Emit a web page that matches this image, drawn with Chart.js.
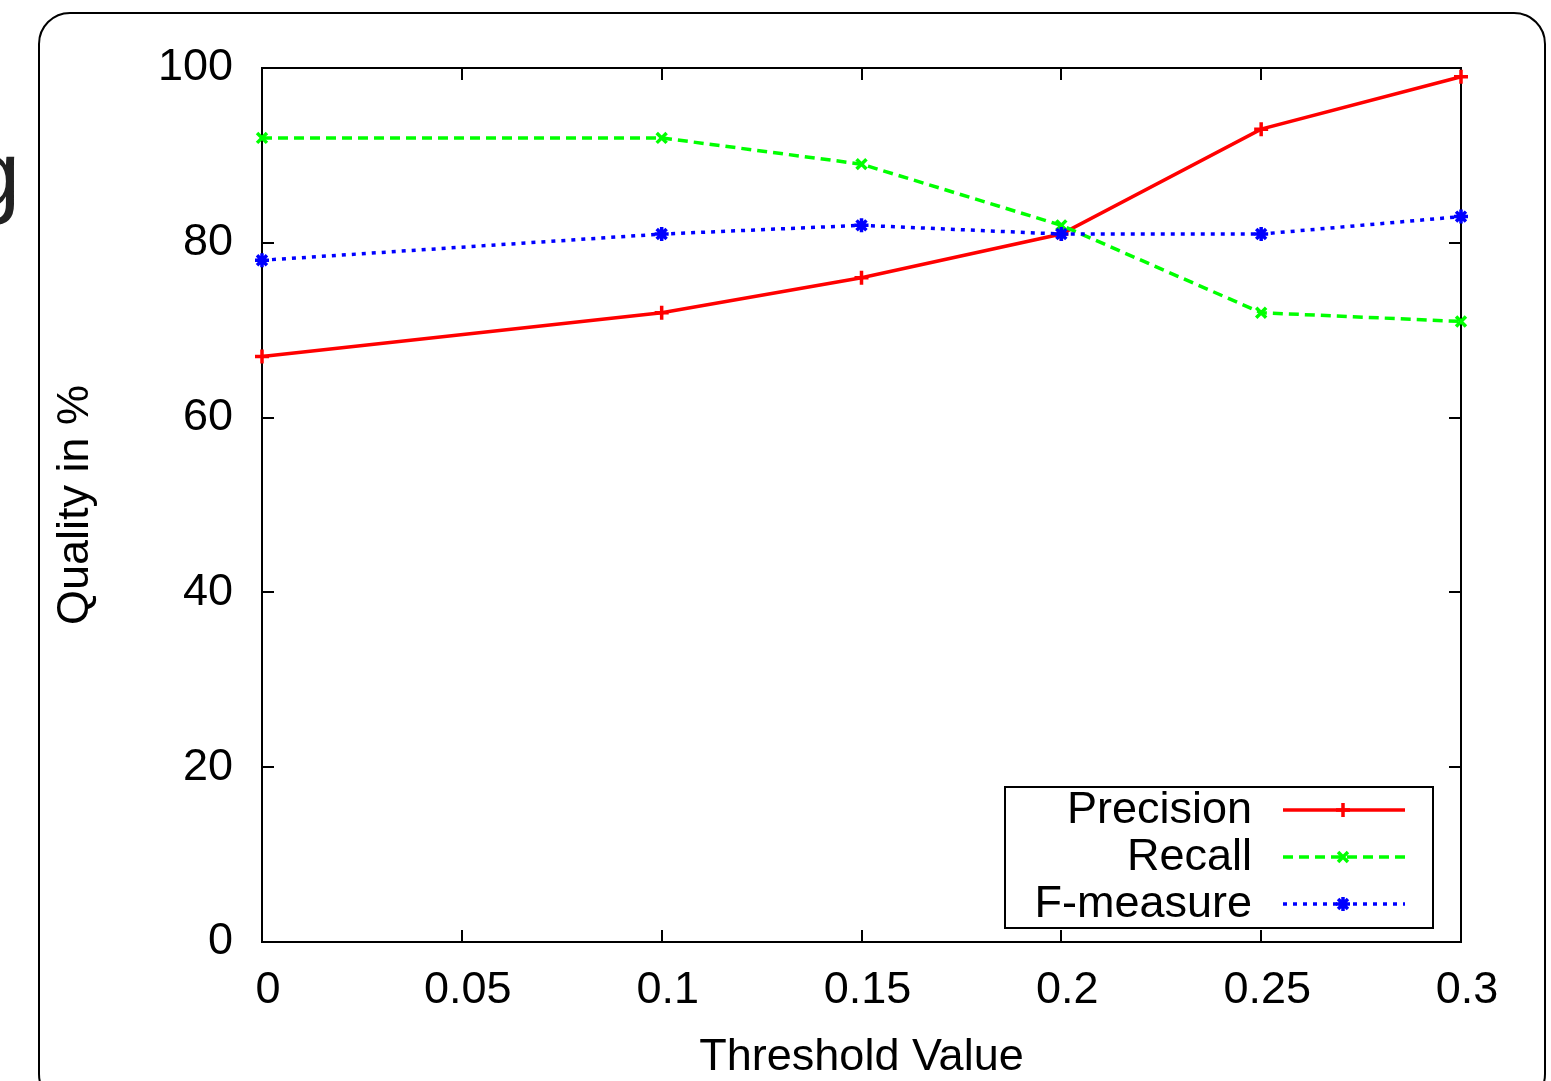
<!DOCTYPE html>
<html>
<head>
<meta charset="utf-8">
<script src="https://cdn.jsdelivr.net/npm/chart.js@4.4.1/dist/chart.umd.min.js"></script>
<style>
  body { margin: 0; background: #fff; overflow: hidden; }
  #wrap { position: relative; width: 1551px; height: 1081px; }
  #frame { position: absolute; left: 38px; top: 12px; width: 1504px; height: 1090px;
           border: 2px solid #000; border-radius: 32px; }
  #stray { position: absolute; left: -31px; top: 122px; font: 92px "Liberation Sans", Arial, sans-serif; color: #222; }
  canvas { position: absolute; left: 0; top: 0; }
</style>
</head>
<body>
<div id="wrap">
  <div id="stray">g</div>
  <div id="frame"></div>
  <canvas id="qualityChart" width="1551" height="1081"></canvas>
</div>
<script>
// data
const thresholds = [0, 0.1, 0.15, 0.2, 0.25, 0.3];
const precision = [67, 72, 76, 81, 93, 99];
const recall = [92, 92, 89, 82, 72, 71];
const fMeasure = [78, 81, 82, 81, 81, 83];
const seriesNames = ['Precision', 'Recall', 'F-measure'];

const FONT = '"Liberation Sans", Arial, sans-serif';

function toPoints(ys) {
  return thresholds.map((x, i) => ({x: x, y: ys[i]}));
}

// gnuplot style box: border, inward ticks on all four sides, key in the corner
const gnuplotBox = {
  id: 'gnuplotBox',
  beforeDatasetsDraw(chart) {
    const {ctx, chartArea: a, scales} = chart;
    ctx.save();
    ctx.strokeStyle = '#000';
    ctx.lineWidth = 2;
    ctx.strokeRect(a.left, a.top, a.right - a.left, a.bottom - a.top);
    const tl = 12;
    ctx.beginPath();
    scales.x.ticks.forEach(t => {
      const px = Math.round(scales.x.getPixelForValue(t.value));
      ctx.moveTo(px, a.bottom); ctx.lineTo(px, a.bottom - tl);
      ctx.moveTo(px, a.top); ctx.lineTo(px, a.top + tl);
    });
    scales.y.ticks.forEach(t => {
      const py = Math.round(scales.y.getPixelForValue(t.value));
      ctx.moveTo(a.left, py); ctx.lineTo(a.left + tl, py);
      ctx.moveTo(a.right, py); ctx.lineTo(a.right - tl, py);
    });
    ctx.stroke();
    ctx.restore();
  },
  afterDatasetsDraw(chart) {
    const {ctx} = chart;
    const box = {left: 1005, top: 787, right: 1433, bottom: 928};
    ctx.save();
    ctx.fillStyle = '#fff';
    ctx.fillRect(box.left, box.top, box.right - box.left, box.bottom - box.top);
    ctx.strokeStyle = '#000';
    ctx.lineWidth = 2;
    ctx.strokeRect(box.left, box.top, box.right - box.left, box.bottom - box.top);
    ctx.font = '45px ' + FONT;
    ctx.textAlign = 'right';
    ctx.textBaseline = 'middle';
    chart.data.datasets.forEach((ds, i) => {
      const y = 810 + i * 47;
      ctx.fillStyle = '#000';
      ctx.fillText(ds.label, 1252, y + 1);
      ctx.strokeStyle = ds.borderColor;
      ctx.lineWidth = ds.borderWidth;
      ctx.setLineDash(ds.borderDash || []);
      ctx.beginPath();
      ctx.moveTo(1283, y); ctx.lineTo(1405, y);
      ctx.stroke();
      ctx.setLineDash([]);
      Chart.helpers.drawPoint(ctx, {
        pointStyle: ds.pointStyle, radius: ds.pointRadius, rotation: 0,
        borderWidth: ds.pointBorderWidth
      }, 1343, y);
    });
    ctx.restore();
  }
};

const ctx = document.getElementById('qualityChart').getContext('2d');
new Chart(ctx, {
  type: 'line',
  data: {
    datasets: [{
      label: seriesNames[0],
      data: toPoints(precision),
      borderColor: '#ff0000',
      backgroundColor: '#ff0000',
      borderWidth: 3.5,
      pointStyle: 'cross',
      pointRadius: 7,
      pointBorderWidth: 3.5,
      order: 2
    }, {
      label: seriesNames[1],
      data: toPoints(recall),
      borderColor: '#00ff00',
      backgroundColor: '#00ff00',
      borderWidth: 3.5,
      borderDash: [10, 6],
      pointStyle: 'crossRot',
      pointRadius: 7,
      pointBorderWidth: 3.5,
      order: 1
    }, {
      label: seriesNames[2],
      data: toPoints(fMeasure),
      borderColor: '#0000ff',
      backgroundColor: '#0000ff',
      borderWidth: 3.5,
      borderDash: [4, 6],
      pointStyle: 'star',
      pointRadius: 7,
      pointBorderWidth: 3.5,
      order: 0
    }]
  },
  options: {
    responsive: false,
    animation: false,
    clip: false,
    layout: {padding: {left: 0, top: 68, right: 90, bottom: 0}},
    plugins: {legend: {display: false}, tooltip: {enabled: false}},
    elements: {line: {tension: 0}},
    scales: {
      x: {
        type: 'linear',
        min: 0, max: 0.3,
        grid: {display: false, drawTicks: false},
        border: {display: false},
        ticks: {
          stepSize: 0.05,
          color: '#000',
          font: {family: FONT, size: 45},
          padding: 22,
          labelOffset: 6,
          maxRotation: 0,
          callback: v => Number(v.toFixed(2)).toString()
        },
        title: {
          display: true, text: 'Threshold Value', color: '#000',
          font: {family: FONT, size: 45, lineHeight: 1},
          padding: {top: 0, bottom: 1}
        },
        afterFit(scale) { scale.height = 139; }
      },
      y: {
        min: 0, max: 100,
        grid: {display: false, drawTicks: false},
        border: {display: false},
        ticks: {
          stepSize: 20,
          color: '#000',
          font: {family: FONT, size: 45},
          padding: 29
        },
        title: {
          display: true, text: 'Quality in %', color: '#000',
          font: {family: FONT, size: 45, lineHeight: 1},
          padding: {top: 53, bottom: 0}
        },
        afterFit(scale) { scale.width = 262; }
      }
    }
  },
  plugins: [gnuplotBox]
});
</script>
</body>
</html>
